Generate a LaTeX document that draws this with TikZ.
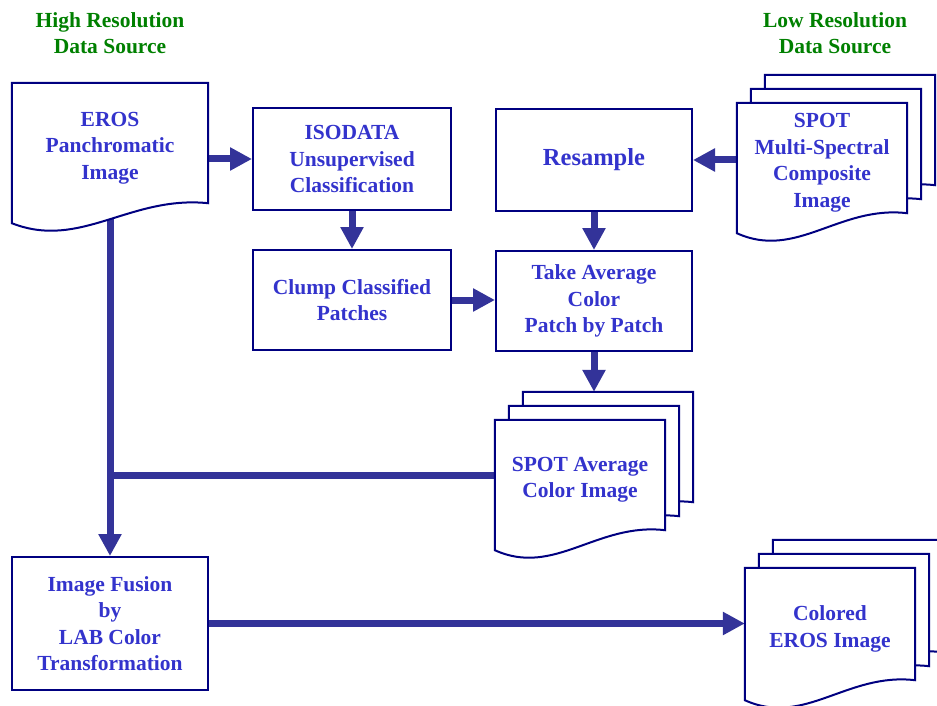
\documentclass[tikz,border=0pt]{standalone}
\usepackage{fontspec}
\setmainfont{Liberation Serif}
\usepackage{tikz}
\usetikzlibrary{arrows.meta,positioning,calc,backgrounds}

\definecolor{boxline}{RGB}{0,0,128}
\definecolor{arrowblue}{RGB}{51,51,153}
\definecolor{textblue}{RGB}{51,51,204}
\definecolor{titlegreen}{RGB}{0,128,0}

% outline of a document sheet with a wavy lower edge
\newcommand{\sheetoutline}[1]{(#1.north west) -- (#1.north east) -- ($(#1.south east)+(0,-10)$)
  .. controls ($(#1.south east)!0.4!(#1.south west)+(0,-18)$) and ($(#1.south east)!0.65!(#1.south west)+(0,37)$) .. ($(#1.south west)+(0,10)$) -- cycle}

\begin{document}
\begin{tikzpicture}[
    x=1pt, y=-1pt,
    every node/.style={font=\bfseries\fontsize{21.5}{26.5}\selectfont, text=textblue, align=center, inner sep=0pt},
    box/.style={draw=boxline, line width=2pt, minimum width=198pt, minimum height=101pt},
    sheet/.style={minimum width=170pt, minimum height=120pt},
    sheetline/.style={draw=boxline, line width=2pt, fill=white},
    title/.style={text=titlegreen},
    arr/.style={-{Triangle[length=22pt, width=22pt]}, line width=7pt, draw=arrowblue},
    link/.style={line width=7pt, draw=arrowblue}
]
\useasboundingbox (0,0) rectangle (937,706);

\node[title] (hires) at (110,33) {High Resolution\\Data Source};
\node[title] (lores) at (835,33) {Low Resolution\\Data Source};

\node[sheet, minimum width=196pt, minimum height=130pt] (eros) at (110,148) {EROS\\Panchromatic\\Image};
\node[box] (isodata) at (352,159) {ISODATA\\Unsupervised\\Classification};
\node[box, minimum width=196pt, font=\bfseries\fontsize{24.5}{28}\selectfont] (resample) at (594,160) {Resample};

\node[sheet] (spotms) at (822,163) {SPOT\\Multi-Spectral\\Composite\\Image};
\node[sheet] (spotms2) at ($(spotms)+(14,-14)$) {};
\node[sheet] (spotms3) at ($(spotms)+(28,-28)$) {};

\node[box, minimum height=100pt] (clump) at (352,300) {Clump Classified\\Patches};
\node[box, minimum width=196pt, minimum height=100pt] (average) at (594,301) {Take Average\\Color\\Patch by Patch};

\node[sheet] (spotavg) at (580,480) {SPOT Average\\Color Image};
\node[sheet] (spotavg2) at ($(spotavg)+(14,-14)$) {};
\node[sheet] (spotavg3) at ($(spotavg)+(28,-28)$) {};

\node[box, minimum width=196pt, minimum height=133pt] (fusion) at (110,623.5) {Image Fusion\\by\\LAB Color\\Transformation};

\node[sheet, minimum height=122pt] (colored) at (830,629) {Colored\\EROS Image};
\node[sheet, minimum height=122pt] (colored2) at ($(colored)+(14,-14)$) {};
\node[sheet, minimum height=122pt] (colored3) at ($(colored)+(28,-28)$) {};

\begin{scope}[on background layer]
\draw[arr] (isodata.west -| eros.east) -- (isodata.west);
\draw[arr] (resample.east -| spotms.west) -- (resample.east);
\draw[arr] (isodata.south) -- (clump.north);
\draw[arr] (resample.south) -- (average.north);
\draw[arr] (clump.east) -- (clump.east -| average.west);
\draw[arr] (average.south) -- (spotavg3.north -| average.south);
\draw[link] ($(spotavg.west)+(0,-5)$) -- ($(spotavg.west -| eros.south)+(0,-5)$);
\draw[arr] (eros.south) -- (fusion.north);
\draw[arr] (fusion.east) -- (fusion.east -| colored.west);

\filldraw[sheetline] \sheetoutline{eros};
\filldraw[sheetline] \sheetoutline{spotms3};
\filldraw[sheetline] \sheetoutline{spotms2};
\filldraw[sheetline] \sheetoutline{spotms};
\filldraw[sheetline] \sheetoutline{spotavg3};
\filldraw[sheetline] \sheetoutline{spotavg2};
\filldraw[sheetline] \sheetoutline{spotavg};
\filldraw[sheetline] \sheetoutline{colored3};
\filldraw[sheetline] \sheetoutline{colored2};
\filldraw[sheetline] \sheetoutline{colored};
\end{scope}
\end{tikzpicture}
\end{document}
